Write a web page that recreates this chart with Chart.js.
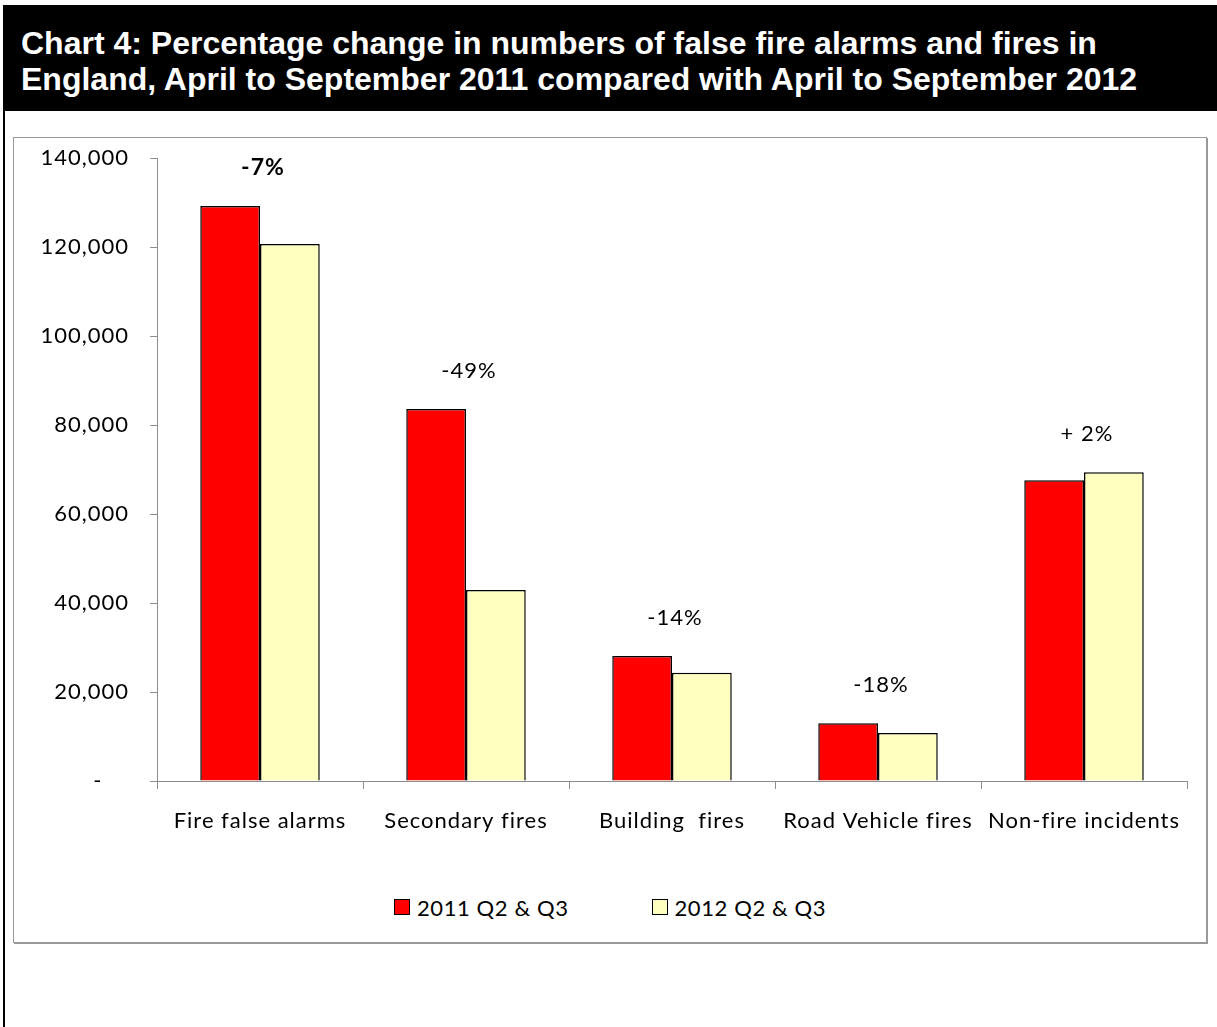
<!DOCTYPE html>
<html>
<head>
<meta charset="utf-8">
<script src="https://cdn.jsdelivr.net/npm/chart.js@4.4.1/dist/chart.umd.min.js"></script>
<style>
  body { margin: 0; background: #fff; width: 1217px; height: 1027px; position: relative; overflow: hidden; }
  #header {
    position: absolute; left: 3px; top: 5px; width: 1214px; height: 106px;
    background: #000; color: #fff; box-sizing: border-box;
    padding: 20px 0 0 18px;
    font: bold 32px "Liberation Sans", Arial, sans-serif; line-height: 36px;
  }
  #leftRule { position: absolute; left: 3px; top: 111px; width: 2px; height: 916px; background: #000; }
  #box {
    position: absolute; left: 13px; top: 137px; width: 1192px; height: 804px;
    border: 1px solid #999; box-shadow: 1px 1px 0 #999;
  }
  #chart { position: absolute; left: 0; top: 0; }
  #legend {
    position: absolute; left: 0; width: 100%; top: 755px; height: 28px;
    display: flex; justify-content: center; align-items: center; gap: 83px;
    font: 22px Lato, sans-serif; letter-spacing: 0.6px; color: #000;
  }
  #legend .item { display: flex; align-items: center; }
  #legend .swatch { width: 14px; height: 14px; border: 1px solid #000; margin-right: 7px; }
</style>
</head>
<body>
<div id="header">Chart 4: Percentage change in numbers of false fire alarms and fires in<br>England, April to September 2011 compared with April to September 2012</div>
<div id="leftRule"></div>
<div id="box">
  <canvas id="chart" width="1192" height="720"></canvas>
  <div id="legend"></div>
</div>
<script>
// categories and series
const categories = ['Fire false alarms', 'Secondary fires', 'Building  fires', 'Road Vehicle fires', 'Non-fire incidents']
const seriesNames = ['2011 Q2 & Q3', '2012 Q2 & Q3']
const values2011 = [129200, 83600, 28100, 13000, 67600]
const values2012 = [120700, 42900, 24300, 10800, 69400]
const changeLabels = ['-7%', '-49%', '-14%', '-18%', '+ 2%']
const yTicks = [0, 20000, 40000, 60000, 80000, 100000, 120000, 140000]

const colors = ['#FF0000', '#FFFFC0']
const axisGrey = '#8c8c8c'
const font = 'Lato'

// the original text is spread out a little, canvas can do that too
const spacingPlugin = {
  id: 'spacing',
  beforeInit(chart) { chart.ctx.letterSpacing = '1px' },
  beforeDraw(chart) { chart.ctx.letterSpacing = '1px' }
}

// percentage change text above each pair of bars
const changeLabelPlugin = {
  id: 'changeLabels',
  afterDatasetsDraw(chart) {
    const ctx = chart.ctx
    const x = chart.scales.x
    const a = chart.getDatasetMeta(0).data
    const b = chart.getDatasetMeta(1).data
    ctx.save()
    ctx.fillStyle = '#000'
    ctx.textAlign = 'center'
    ctx.textBaseline = 'middle'
    changeLabels.forEach((txt, i) => {
      const top = Math.min(a[i].y, b[i].y)
      ctx.font = i === 0 ? 'bold 23px ' + font : '22px ' + font
      ctx.fillText(txt, x.getPixelForValue(i) + 3, top - 38)
    })
    ctx.restore()
  }
}

const chart = new Chart(document.getElementById('chart').getContext('2d'), {
  type: 'bar',
  data: {
    labels: categories,
    datasets: [{
      label: seriesNames[0],
      data: values2011,
      backgroundColor: colors[0],
      borderColor: '#000',
      borderWidth: 1.5
    }, {
      label: seriesNames[1],
      data: values2012,
      backgroundColor: colors[1],
      borderColor: '#000',
      borderWidth: 1.5
    }]
  },
  options: {
    responsive: false,
    animation: false,
    layout: { padding: { top: 20, right: 19 } },
    datasets: { bar: { categoryPercentage: 0.58, barPercentage: 1 } },
    plugins: {
      legend: { display: false },
      tooltip: { enabled: false }
    },
    scales: {
      x: {
        grid: { drawOnChartArea: false, tickLength: 8, color: axisGrey, offset: true },
        border: { color: axisGrey },
        ticks: { color: '#000', font: { family: font, size: 22 }, padding: 19, maxRotation: 0 },
        afterFit(scale) { scale.height = 77 }
      },
      y: {
        min: 0,
        max: 140000,
        afterBuildTicks(scale) { scale.ticks = yTicks.map(v => ({ value: v })) },
        grid: { drawOnChartArea: false, tickLength: 7, color: axisGrey },
        border: { color: axisGrey },
        ticks: {
          color: '#000',
          font: { family: font, size: 22 },
          padding: 21,
          callback: v => v === 0 ? '-    ' : v.toLocaleString('en-GB')
        },
        afterFit(scale) {
          scale.width = 143
          // tick padding would otherwise push the plot top down
          scale.paddingTop = 0
          scale.paddingBottom = 0
        }
      }
    }
  },
  plugins: [spacingPlugin, changeLabelPlugin]
})

// legend built from the datasets
const legend = document.getElementById('legend')
chart.data.datasets.forEach(ds => {
  const item = document.createElement('div')
  item.className = 'item'
  const sw = document.createElement('span')
  sw.className = 'swatch'
  sw.style.background = ds.backgroundColor
  const label = document.createElement('span')
  label.textContent = ds.label
  item.appendChild(sw)
  item.appendChild(label)
  legend.appendChild(item)
})
</script>
</body>
</html>
